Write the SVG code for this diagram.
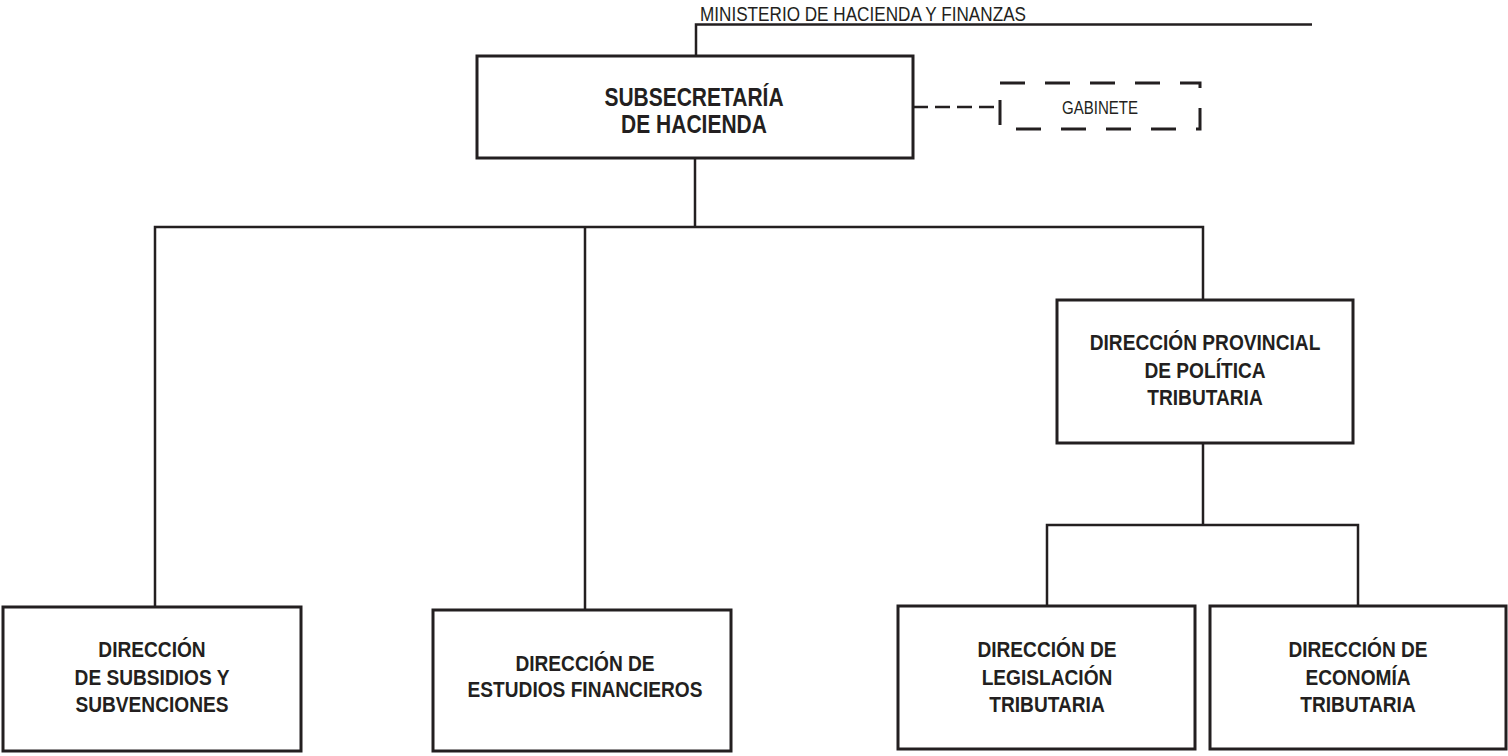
<svg xmlns="http://www.w3.org/2000/svg" width="1508" height="756" viewBox="0 0 1508 756">
<style>
  .box { fill: #ffffff; stroke: #231f20; stroke-width: 3; }
  .dbox { fill: none; stroke: #231f20; stroke-width: 3; stroke-dasharray: 25 20; }
  .ln { fill: none; stroke: #231f20; stroke-width: 2.5; }
  .dln { fill: none; stroke: #231f20; stroke-width: 2.5; stroke-dasharray: 15 7; }
  .t { font-family: "Liberation Sans", Arial, sans-serif; font-weight: bold; font-size: 22px; fill: #231f20; text-anchor: middle; }
  .tb { font-family: "Liberation Sans", Arial, sans-serif; font-weight: bold; font-size: 25px; fill: #231f20; text-anchor: middle; }
  .tl { font-family: "Liberation Sans", Arial, sans-serif; font-size: 20px; fill: #231f20; }
  .ts { font-family: "Liberation Sans", Arial, sans-serif; font-size: 18px; fill: #231f20; }
</style>
<rect width="1508" height="756" fill="#ffffff"/>
<g id="connectors">
  <polyline class="ln" points="1312,24.5 696,24.5 696,56"/>
  <line class="dln" x1="913" y1="107" x2="1000" y2="107"/>
  <line class="ln" x1="695" y1="158" x2="695" y2="227"/>
  <polyline class="ln" points="155,607 155,227 1203,227 1203,300"/>
  <line class="ln" x1="585" y1="227" x2="585" y2="610"/>
  <line class="ln" x1="1203" y1="443" x2="1203" y2="525"/>
  <polyline class="ln" points="1047,606 1047,525 1358,525 1358,606"/>
</g>
<g id="ministerio">
  <text class="tl" x="700" y="21" textLength="326" lengthAdjust="spacingAndGlyphs">MINISTERIO DE HACIENDA Y FINANZAS</text>
</g>
<g id="subsecretaria">
  <rect class="box" x="477" y="56" width="436" height="102"/>
  <g transform="translate(694 0) scale(0.84 1)">
    <text class="tb" x="0" y="106">SUBSECRETARÍA</text>
    <text class="tb" x="0" y="133">DE HACIENDA</text>
  </g>
</g>
<g id="gabinete">
  <rect class="dbox" x="1000" y="83" width="200" height="46"/>
  <text class="ts" x="1062" y="114" textLength="76" lengthAdjust="spacingAndGlyphs">GABINETE</text>
</g>
<g id="provincial">
  <rect class="box" x="1057" y="300" width="296" height="143"/>
  <g transform="translate(1205 0) scale(0.87 1)">
    <text class="t" x="0" y="350">DIRECCIÓN PROVINCIAL</text>
    <text class="t" x="0" y="378">DE POLÍTICA</text>
    <text class="t" x="0" y="405">TRIBUTARIA</text>
  </g>
</g>
<g id="subsidios">
  <rect class="box" x="3" y="607" width="298" height="144"/>
  <g transform="translate(152 0) scale(0.87 1)">
    <text class="t" x="0" y="657">DIRECCIÓN</text>
    <text class="t" x="0" y="685">DE SUBSIDIOS Y</text>
    <text class="t" x="0" y="712">SUBVENCIONES</text>
  </g>
</g>
<g id="estudios">
  <rect class="box" x="433" y="610" width="298" height="141"/>
  <g transform="translate(585 0) scale(0.87 1)">
    <text class="t" x="0" y="671">DIRECCIÓN DE</text>
    <text class="t" x="0" y="697">ESTUDIOS FINANCIEROS</text>
  </g>
</g>
<g id="legislacion">
  <rect class="box" x="898" y="606" width="297" height="143"/>
  <g transform="translate(1047 0) scale(0.87 1)">
    <text class="t" x="0" y="657">DIRECCIÓN DE</text>
    <text class="t" x="0" y="685">LEGISLACIÓN</text>
    <text class="t" x="0" y="712">TRIBUTARIA</text>
  </g>
</g>
<g id="economia">
  <rect class="box" x="1210" y="606" width="296" height="143"/>
  <g transform="translate(1358 0) scale(0.87 1)">
    <text class="t" x="0" y="657">DIRECCIÓN DE</text>
    <text class="t" x="0" y="685">ECONOMÍA</text>
    <text class="t" x="0" y="712">TRIBUTARIA</text>
  </g>
</g>
</svg>
